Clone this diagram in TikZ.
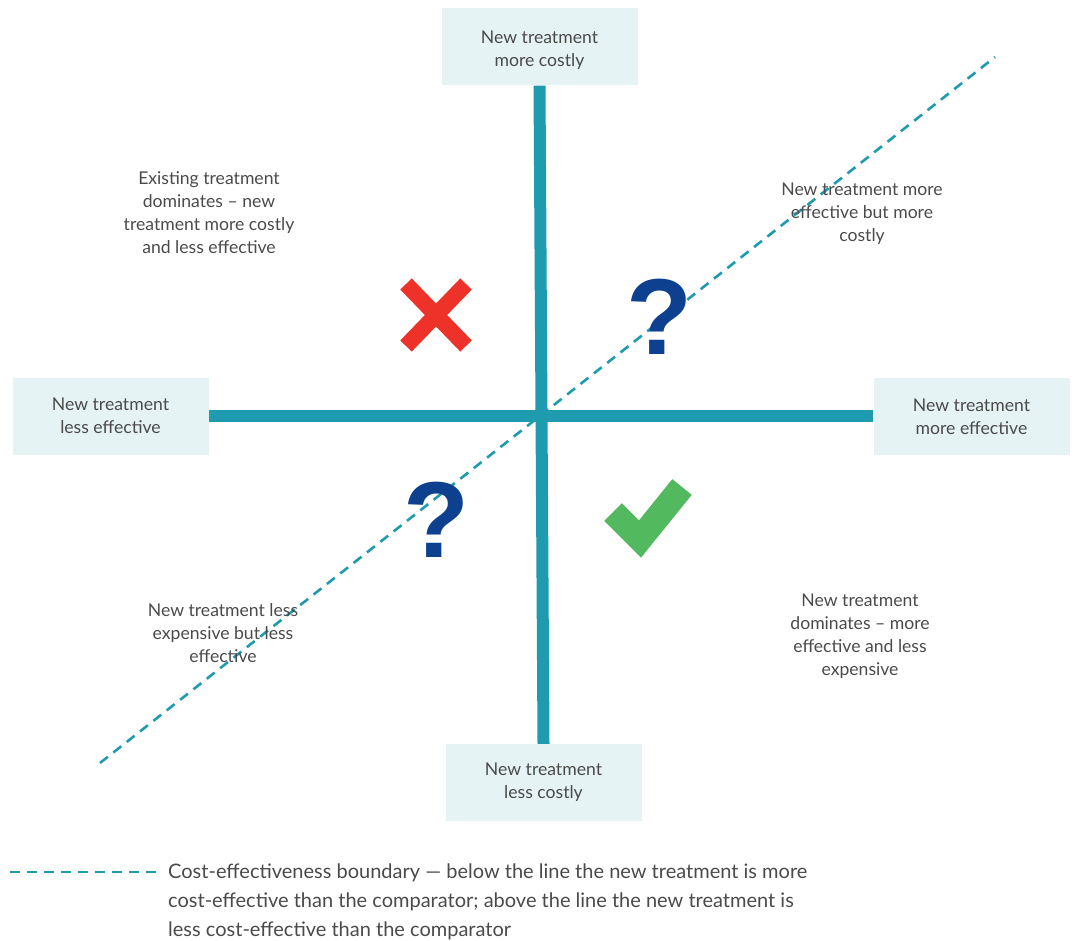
\documentclass[tikz,border=0pt]{standalone}
\usepackage{fontspec}
\setmainfont{Lato}
\newfontfamily\qfont{Liberation Sans}
\usetikzlibrary{positioning}
\definecolor{axisteal}{HTML}{1F9BB0}
\definecolor{boxfill}{HTML}{E5F3F4}
\definecolor{txtgray}{HTML}{4A4A4A}
\definecolor{crossred}{HTML}{EE3129}
\definecolor{tickgreen}{HTML}{52B95E}
\definecolor{qblue}{HTML}{0D4190}
\newcommand{\bodysize}{\fontsize{17.6}{23}\selectfont}
\newcommand{\legsize}{\fontsize{20}{29}\selectfont}
\newcommand{\qmark}{\qfont\bfseries\fontsize{108}{108}\selectfont ?}
\newcommand{\lowered}[2]{\raisebox{-#1}[\height][\depth]{\parbox{190pt}{\centering #2}}}

\begin{document}
\begin{tikzpicture}[x=1pt,y=-1pt]
    %\draw[help lines] (0,0) grid (1075,941);
    \tikzset{
        axisbox/.style = {fill=boxfill, minimum width=196pt, minimum height=77pt,
                          align=center, text=txtgray, font=\bodysize, inner sep=0pt},
        quadtext/.style = {align=center, text=txtgray, font=\bodysize, inner sep=0pt},
        axisline/.style = {axisteal, line width=12pt},
        boundary/.style = {axisteal, line width=2.6pt, dash pattern=on 10pt off 7pt}
    }
    \useasboundingbox (0,0) rectangle (1075,941);

    % the four ends of the axes
    \node[axisbox] (costly)  at (539.5,47)   {\lowered{3pt}{New treatment\\more costly}};
    \node[axisbox] (cheap)   at (543.5,782.5) {New treatment\\less costly};
    \node[axisbox] (lesseff) at (110.5,416)  {New treatment\\less effective};
    \node[axisbox] (moreeff) at (971.5,416)  {\lowered{1pt}{New treatment\\more effective}};

    % boundary line, drawn first so the marks sit on top
    \coordinate (ceb1) at (100,763);
    \coordinate (ceb2) at (995,57);
    \draw[boundary] (ceb1) -- (ceb2);

    \draw[axisline] (costly.south) -- (cheap.north);
    \draw[axisline] (lesseff.east) -- (moreeff.west);

    % quadrant texts
    \node[quadtext] (nwtext) at (209,212.5) {Existing treatment\\dominates -- new\\treatment more costly\\and less effective};
    \node[quadtext] (netext) at (862,213.5) {New treatment more\\effective but more\\costly};
    \node[quadtext] (swtext) at (223,633.5) {New treatment less\\expensive but less\\effective};
    \node[quadtext] (setext) at (860,636.5) {New treatment\\dominates -- more\\effective and less\\expensive};

    % marks
    \coordinate (cross) at (436,315);
    \draw[crossred, line width=16pt] ([shift={(-30,-31)}]cross) -- ([shift={(30,31)}]cross);
    \draw[crossred, line width=16pt] ([shift={(30,-31)}]cross) -- ([shift={(-30,31)}]cross);
    \draw[tickgreen, line width=25pt, miter limit=4] (613,512) -- (640,539) -- (682,487);
    \node[anchor=base, text=qblue, inner sep=0pt] (qne) at (659,354) {\qmark};
    \node[anchor=base, text=qblue, inner sep=0pt] (qsw) at (436.5,557) {\qmark};

    % legend
    \coordinate (leg1) at (10,872);
    \coordinate (leg2) at (160,872);
    \draw[boundary] (leg1) -- (leg2);
    \node[align=left, text=txtgray, font=\legsize, inner sep=0pt,
          anchor=north west] (legtext) at (168,864)
        {Cost-effectiveness boundary --- below the line the new treatment is more\\
         cost-effective than the comparator; above the line the new treatment is\\
         less cost-effective than the comparator};
\end{tikzpicture}
\end{document}
